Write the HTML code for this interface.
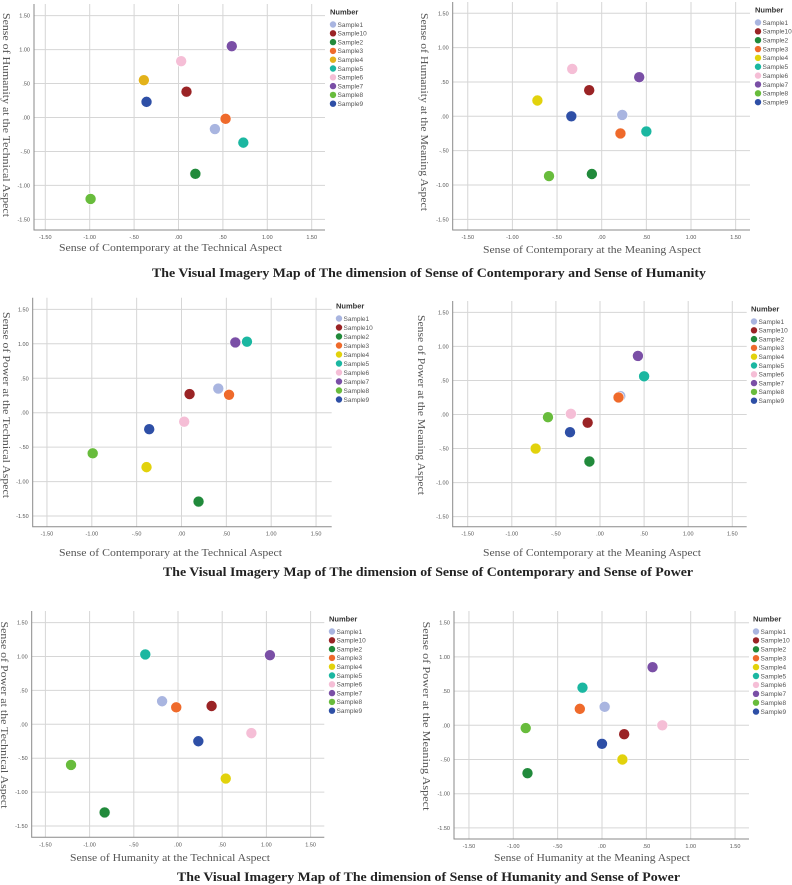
<!DOCTYPE html>
<html><head><meta charset="utf-8">
<style>
html,body{margin:0;padding:0;background:#fff;}
svg{display:block;}
.tick{font-family:"Liberation Sans",sans-serif;font-size:5.5px;fill:#555;}
.axt{font-family:"Liberation Serif",serif;font-size:11px;fill:#555;}
.ttl{font-family:"Liberation Serif",serif;font-size:12.5px;font-weight:bold;fill:#222;}
.lg{font-family:"Liberation Sans",sans-serif;font-size:6.5px;fill:#555;}
.lgt{font-family:"Liberation Sans",sans-serif;font-size:7.5px;font-weight:bold;fill:#333;}
</style></head>
<body>
<svg id="root" width="792" height="885" viewBox="0 0 792 885" xmlns="http://www.w3.org/2000/svg">
<text class="ttl" x="152" y="277" textLength="554" lengthAdjust="spacingAndGlyphs">The Visual Imagery Map of The dimension of Sense of Contemporary and Sense of Humanity</text>
<text class="ttl" x="163" y="576" textLength="530" lengthAdjust="spacingAndGlyphs">The Visual Imagery Map of The dimension of Sense of Contemporary and Sense of Power</text>
<text class="ttl" x="177" y="881" textLength="503" lengthAdjust="spacingAndGlyphs">The Visual Imagery Map of The dimension of Sense of Humanity and Sense of Power</text>
</svg>
<script>
const samples = ["Sample1","Sample10","Sample2","Sample3","Sample4","Sample5","Sample6","Sample7","Sample8","Sample9"];
const colors = ["#a9b5e0","#9a2325","#218a3b","#ef6a2b","#e2d20c","#1bb7a1","#f5bed6","#7a4fa6","#68bc3c","#2e4fa6"];
const ticks = [-1.5,-1,-0.5,0,0.5,1,1.5];
const tickLabels = ["-1.50","-1.00","-.50",".00",".50","1.00","1.50"];
// chart 1: contemporary (tech) vs humanity (tech)
const c1x = [0.41,0.09,0.19,0.53,-0.39,0.73,0.03,0.60,-0.99,-0.36];
const c1y = [-0.17,0.38,-0.83,-0.02,0.55,-0.37,0.83,1.05,-1.20,0.23];
// chart 2: contemporary (meaning) vs humanity (meaning)
const c2x = [0.23,-0.14,-0.11,0.21,-0.72,0.50,-0.33,0.42,-0.59,-0.34];
const c2y = [0.02,0.38,-0.84,-0.25,0.23,-0.22,0.69,0.57,-0.87,0.00];
// chart 3: contemporary (tech) vs power (tech)
const c3x = [0.41,0.09,0.19,0.53,-0.39,0.73,0.03,0.60,-0.99,-0.36];
const c3y = [0.35,0.27,-1.29,0.26,-0.79,1.03,-0.13,1.02,-0.59,-0.24];
// chart 4: contemporary (meaning) vs power (meaning)
const c4x = [0.23,-0.14,-0.12,0.21,-0.73,0.50,-0.33,0.43,-0.59,-0.34];
const c4y = [0.27,-0.12,-0.69,0.25,-0.50,0.56,0.01,0.86,-0.04,-0.26];
// chart 5: humanity (tech) vs power (tech)
const c5x = [-0.18,0.38,-0.83,-0.02,0.54,-0.37,0.83,1.04,-1.21,0.23];
const c5y = [0.34,0.27,-1.30,0.25,-0.80,1.03,-0.13,1.02,-0.60,-0.25];
// chart 6: humanity (meaning) vs power (meaning)
const c6x = [0.03,0.25,-0.84,-0.25,0.23,-0.22,0.68,0.57,-0.86,0.00];
const c6y = [0.27,-0.13,-0.70,0.24,-0.50,0.55,0.00,0.85,-0.04,-0.27];

const NS="http://www.w3.org/2000/svg";
const root=document.getElementById('root');
function mk(tag,attrs,parent){const e=document.createElementNS(NS,tag);for(const k in attrs)e.setAttribute(k,attrs[k]);(parent||root).appendChild(e);return e;}

const charts=[
 {id:"c1",xs:c1x,ys:c1y,L:34,R:325,T:4,B:230,x0:178.5,xu:88.8,y0:117.5,yu:67.9,xt:"Sense of Contemporary at the Technical Aspect",xtx:59,xtl:223,xty:251,yt:"Sense of Humanity at the Technical Aspect",ytx:3,ytc:115,ytl:204,lgx:330,lgy:12,lgs:8.8,s4:"#e3b21a"},
 {id:"c2",xs:c2x,ys:c2y,L:452.7,R:750,T:2,B:230,x0:601.7,xu:89.3,y0:116.3,yu:68.7,xt:"Sense of Contemporary at the Meaning Aspect",xtx:483,xtl:218,xty:253,yt:"Sense of Humanity at the Meaning Aspect",ytx:421,ytc:112,ytl:198,lgx:755,lgy:10,lgs:8.85},
 {id:"c3",xs:c3x,ys:c3y,L:32.7,R:331.7,T:297.7,B:526.7,x0:181.5,xu:89.7,y0:412.7,yu:68.9,xt:"Sense of Contemporary at the Technical Aspect",xtx:59,xtl:223,xty:556,yt:"Sense of Power at the Technical Aspect",ytx:3,ytc:405,ytl:186,lgx:336,lgy:306,lgs:9.0},
 {id:"c4",xs:c4x,ys:c4y,L:452.7,R:746.7,T:301,B:526.7,x0:600,xu:88.2,y0:414.5,yu:68.1,xt:"Sense of Contemporary at the Meaning Aspect",xtx:483,xtl:218,xty:556,yt:"Sense of Power at the Meaning Aspect",ytx:418,ytc:405,ytl:180,lgx:751,lgy:309,lgs:8.8},
 {id:"c5",xs:c5x,ys:c5y,L:31.7,R:324.3,T:611,B:837.3,x0:178,xu:88.4,y0:724.3,yu:67.8,xt:"Sense of Humanity at the Technical Aspect",xtx:70,xtl:200,xty:861,yt:"Sense of Power at the Technical Aspect",ytx:1,ytc:715,ytl:187,lgx:329,lgy:619,lgs:8.8},
 {id:"c6",xs:c6x,ys:c6y,L:454,R:749,T:611,B:839,x0:602,xu:88.7,y0:725.3,yu:68.4,xt:"Sense of Humanity at the Meaning Aspect",xtx:494,xtl:196,xty:861,yt:"Sense of Power at the Meaning Aspect",ytx:423,ytc:716,ytl:189,lgx:753,lgy:619,lgs:8.9}
];

charts.forEach((c,ci)=>{
  const g=mk('g',{});
  
  
  const X=v=>c.x0+v*c.xu, Y=v=>c.y0-v*c.yu;
  ticks.forEach((t,i)=>{
    const vl=mk('line',{x1:X(t),x2:X(t),y1:c.T,y2:c.B,stroke:"#d6d6d6","stroke-width":1},g);
    
    
    const hl=mk('line',{x1:c.L,x2:c.R,y1:Y(t),y2:Y(t),stroke:"#d6d6d6","stroke-width":1},g);
    
    
    const xl=mk('text',{class:"tick",x:X(t),y:c.B+9,"text-anchor":"middle"},g);xl.textContent=tickLabels[i];
    
    
    const yl=mk('text',{class:"tick",x:c.L-4,y:Y(t)+2,"text-anchor":"end"},g);yl.textContent=tickLabels[i];
    
    
  });
  const ax=mk('path',{d:`M${c.L},${c.T}V${c.B}H${c.R}`,fill:"none",stroke:"#8a8a8a","stroke-width":1},g);
  
  
  c.xs.forEach((v,i)=>{
    const col=(i===4&&c.s4)?c.s4:colors[i];
    const p=mk('circle',{cx:X(v),cy:Y(c.ys[i]),r:5.5,fill:col,stroke:"#fff","stroke-width":0.6},g);
    
    
  });
  const xt=mk('text',{class:"axt",x:c.xtx,y:c.xty,textLength:c.xtl,lengthAdjust:"spacingAndGlyphs"},g);xt.textContent=c.xt;
  
  
  const yt=mk('text',{class:"axt",x:0,y:0,"text-anchor":"middle",textLength:c.ytl,lengthAdjust:"spacingAndGlyphs",transform:`translate(${c.ytx},${c.ytc}) rotate(90)`},g);yt.textContent=c.yt;
  
  
  const lt=mk('text',{class:"lgt",x:c.lgx,y:c.lgy+2.5},g);lt.textContent="Number";
  
  
  samples.forEach((s,i)=>{
    const col=(i===4&&c.s4)?c.s4:colors[i];
    const yy=c.lgy+12.5+i*c.lgs;
    const lc=mk('circle',{cx:c.lgx+3,cy:yy,r:3.2,fill:col},g);
    
    
    const tx=mk('text',{class:"lg",x:c.lgx+7.5,y:yy+2.3},g);tx.textContent=s;
    
    
  });
});
</script>
</body></html>
